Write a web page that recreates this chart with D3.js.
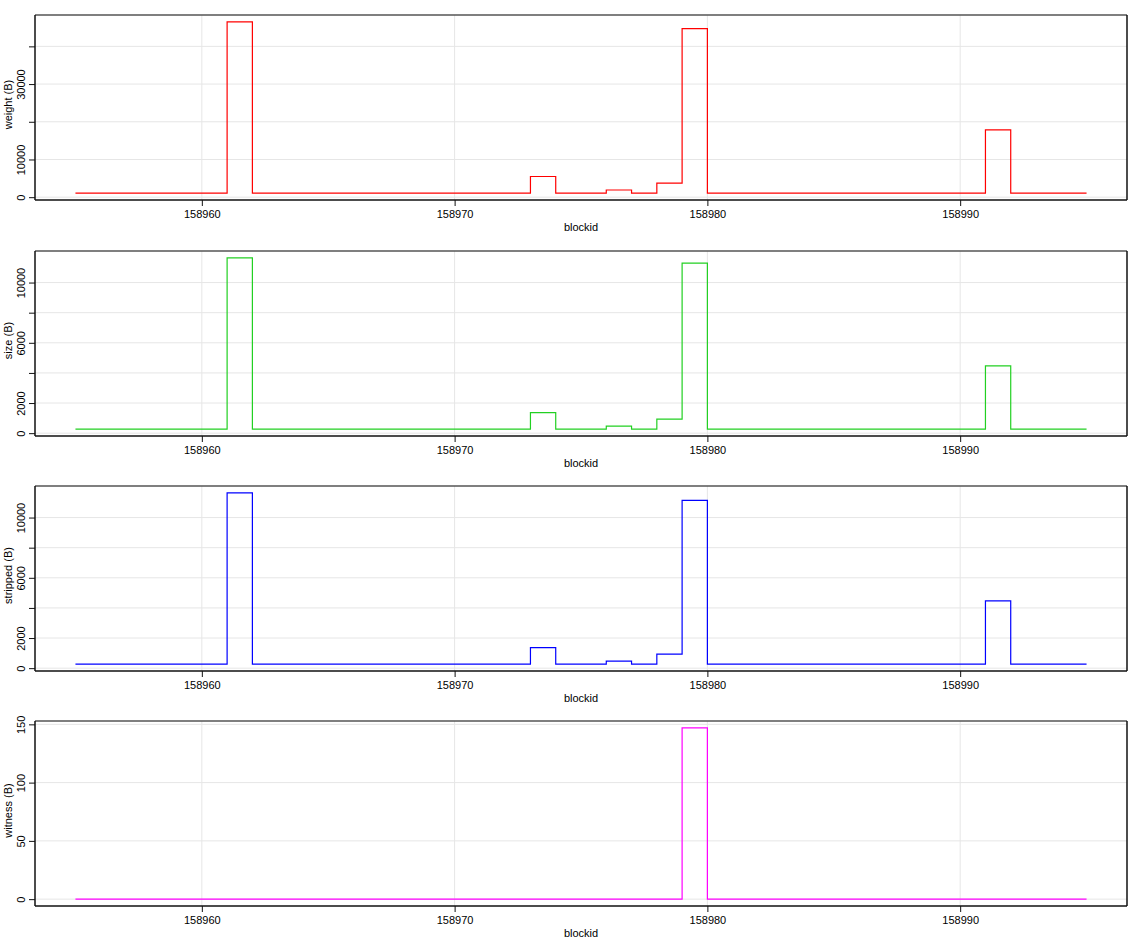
<!DOCTYPE html>
<html><head><meta charset="utf-8">
<script src="https://cdn.jsdelivr.net/npm/d3@7"></script>
<style>body{margin:0;background:#fff;} text{font-family:"Liberation Sans",Arial,Helvetica,sans-serif;}</style>
</head><body>
<svg id="c" width="1137" height="941"></svg>
<script>
// ---- data ----
const blockids = d3.range(158955, 158996);
const weight = [1068,1068,1068,1068,1068,1068,46500,1068,1068,1068,1068,1068,1068,1068,1068,1068,1068,1068,5480,1068,1068,1900,1068,3730,44720,1068,1068,1068,1068,1068,1068,1068,1068,1068,1068,1068,17870,1068,1068,1068,1068];
const size = [267,267,267,267,267,267,11640,267,267,267,267,267,267,267,267,267,267,267,1360,267,267,470,267,933,11287,267,267,267,267,267,267,267,267,267,267,267,4467,267,267,267,267];
const stripped = [267,267,267,267,267,267,11640,267,267,267,267,267,267,267,267,267,267,267,1360,267,267,470,267,933,11140,267,267,267,267,267,267,267,267,267,267,267,4467,267,267,267,267];
const witness = [0,0,0,0,0,0,0,0,0,0,0,0,0,0,0,0,0,0,0,0,0,0,0,0,147,0,0,0,0,0,0,0,0,0,0,0,0,0,0,0,0];
const xTicks = [158960, 158970, 158980, 158990];
const weightTicks = [0, 10000, 20000, 30000, 40000];
const weightTickLabels = ["0", "10000", "", "30000", ""];
const sizeTicks = [0, 2000, 4000, 6000, 8000, 10000];
const sizeTickLabels = ["0", "2000", "", "6000", "", "10000"];
const strippedTicks = [0, 2000, 4000, 6000, 8000, 10000];
const strippedTickLabels = ["0", "2000", "", "6000", "", "10000"];
const witnessTicks = [0, 50, 100, 150];
const witnessTickLabels = ["0", "50", "100", "150"];
const yLabels = ["weight (B)", "size (B)", "stripped (B)", "witness (B)"];
const xLabel = "blockid";

const panels = [
  {values: weight, ticks: weightTicks, labels: weightTickLabels, ylab: yLabels[0], color: "#ff0000", top: 15, bottom: 200},
  {values: size, ticks: sizeTicks, labels: sizeTickLabels, ylab: yLabels[1], color: "#22d022", top: 251, bottom: 436},
  {values: stripped, ticks: strippedTicks, labels: strippedTickLabels, ylab: yLabels[2], color: "#0000ff", top: 486, bottom: 671},
  {values: witness, ticks: witnessTicks, labels: witnessTickLabels, ylab: yLabels[3], color: "#ff00ff", top: 721, bottom: 906}
];
const left = 35, right = 1127;

const svg = d3.select("#c");
function ext(arr) {
  const mn = d3.min(arr), mx = d3.max(arr), r = mx - mn;
  return [mn - 0.04 * r, mx + 0.04 * r];
}
const x = d3.scaleLinear().domain(ext(blockids)).range([left, right]);

panels.forEach(p => {
  const y = d3.scaleLinear().domain(ext(p.values)).range([p.bottom, p.top]);
  const g = svg.append("g");
  // grid
  g.selectAll(".gy").data(p.ticks).join("line")
    .attr("x1", left).attr("x2", right)
    .attr("y1", d => y(d)).attr("y2", d => y(d))
    .attr("stroke", "#e6e6e6").attr("stroke-width", 1);
  g.selectAll(".gx").data(xTicks).join("line")
    .attr("x1", d => x(d)).attr("x2", d => x(d))
    .attr("y1", p.top).attr("y2", p.bottom)
    .attr("stroke", "#e6e6e6").attr("stroke-width", 1);
  // data
  const line = d3.line().x((d, i) => x(blockids[i])).y(d => y(d)).curve(d3.curveStepAfter);
  g.append("path").datum(p.values).attr("d", line)
    .attr("fill", "none").attr("stroke", p.color).attr("stroke-width", 1.2);
  // frame
  g.append("line").attr("x1", left).attr("x2", right).attr("y1", p.top).attr("y2", p.top)
    .attr("stroke", "#555").attr("stroke-width", 1.5);
  g.append("line").attr("x1", right).attr("x2", right).attr("y1", p.top).attr("y2", p.bottom)
    .attr("stroke", "#111").attr("stroke-width", 1.5);
  g.append("line").attr("x1", left).attr("x2", right).attr("y1", p.bottom).attr("y2", p.bottom)
    .attr("stroke", "#111").attr("stroke-width", 1.5);
  g.append("line").attr("x1", left).attr("x2", left).attr("y1", p.top).attr("y2", p.bottom)
    .attr("stroke", "#111").attr("stroke-width", 1.5);
  // y axis
  const ya = d3.axisLeft(y).tickValues(p.ticks).tickSize(6).tickPadding(3)
    .tickFormat((d, i) => p.labels[i]);
  const yg = g.append("g").attr("transform", `translate(${left},0)`).call(ya);
  yg.select(".domain").remove();
  yg.selectAll(".tick line").attr("stroke", "#111");
  yg.selectAll(".tick text")
    .attr("font-size", 11).attr("fill", "#000")
    .attr("text-anchor", "middle").attr("dy", null).attr("x", null)
    .attr("transform", "translate(-10,0) rotate(-90)");
  // x axis
  const xa = d3.axisBottom(x).tickValues(xTicks).tickSize(6).tickPadding(4).tickFormat(d3.format("d"));
  const xg = g.append("g").attr("transform", `translate(0,${p.bottom})`).call(xa);
  xg.select(".domain").remove();
  xg.selectAll(".tick line").attr("stroke", "#111");
  xg.selectAll(".tick text").attr("font-size", 11).attr("fill", "#000");
  // labels
  g.append("text").attr("x", (left + right) / 2).attr("y", p.bottom + 31)
    .attr("text-anchor", "middle").attr("font-size", 11).text(xLabel);
  g.append("text").attr("transform", `translate(12,${(p.top + p.bottom) / 2 - 3}) rotate(-90)`)
    .attr("text-anchor", "middle").attr("font-size", 11).text(p.ylab);
});
</script>
</body></html>
